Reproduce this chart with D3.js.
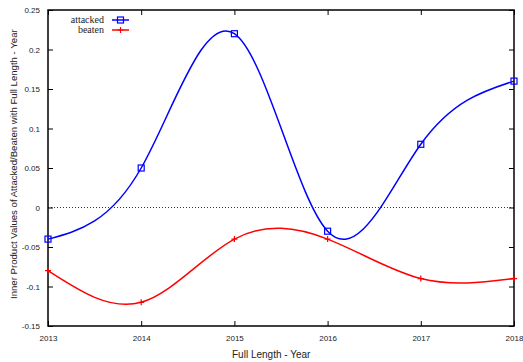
<!DOCTYPE html>
<html>
<head>
<meta charset="utf-8">
<script src="https://cdn.jsdelivr.net/npm/d3@7"></script>
<style>
  body { margin: 0; background: #fff; }
  svg text { font-family: "Liberation Sans", Arial, sans-serif; fill: #222; }
</style>
</head>
<body>
<div class="result"></div>
<script>
// Data
const years = [2013, 2014, 2015, 2016, 2017, 2018];
const attacked = [-0.04, 0.05, 0.22, -0.03, 0.08, 0.16];
const beaten = [-0.08, -0.12, -0.04, -0.04, -0.09, -0.09];
const yTicks = [-0.15, -0.1, -0.05, 0, 0.05, 0.1, 0.15, 0.2, 0.25];

// Width and height
const w = 523;
const h = 362;
const plotLeft = 48, plotRight = 514, plotTop = 10, plotBottom = 326;

const xScale = d3.scaleLinear().domain([2013, 2018]).range([plotLeft, plotRight]);
const yScale = d3.scaleLinear().domain([-0.15, 0.25]).range([plotBottom, plotTop]);

const svg = d3.select('.result')
  .append('svg')
  .attr('width', w)
  .attr('height', h);

// Zero line
svg.append('line')
  .attr('x1', plotLeft).attr('x2', plotRight)
  .attr('y1', yScale(0)).attr('y2', yScale(0))
  .attr('stroke', '#000').attr('stroke-width', 0.8)
  .attr('stroke-dasharray', '1,2');

// Axes (gnuplot style: inward ticks, mirrored)
const tickLen = 5;
const xAxis = d3.axisBottom(xScale).tickValues(years).tickFormat(d3.format('d')).tickSizeInner(-tickLen).tickSizeOuter(0).tickPadding(9);
const xAxisTop = d3.axisTop(xScale).tickValues(years).tickFormat('').tickSizeInner(-tickLen).tickSizeOuter(0);
const yAxis = d3.axisLeft(yScale).tickValues(yTicks).tickFormat(d => String(+d.toFixed(2))).tickSizeInner(-tickLen).tickSizeOuter(0).tickPadding(8);
const yAxisRight = d3.axisRight(yScale).tickValues(yTicks).tickFormat('').tickSizeInner(-tickLen).tickSizeOuter(0);

svg.append('g').attr('transform', 'translate(0,' + plotBottom + ')').call(xAxis);
svg.append('g').attr('transform', 'translate(0,' + plotTop + ')').call(xAxisTop);
svg.append('g').attr('transform', 'translate(' + plotLeft + ',0)').call(yAxis);
svg.append('g').attr('transform', 'translate(' + plotRight + ',0)').call(yAxisRight);

svg.selectAll('.domain').remove();
svg.selectAll('.tick line').attr('stroke', '#000').attr('stroke-width', 1);
svg.selectAll('.tick text').style('font-size', '8px').attr('fill', '#222');

// Border
svg.append('rect')
  .attr('x', plotLeft).attr('y', plotTop)
  .attr('width', plotRight - plotLeft).attr('height', plotBottom - plotTop)
  .attr('fill', 'none').attr('stroke', '#000').attr('stroke-width', 1.5);

// Lines
const line = d3.line()
  .x((d, i) => xScale(years[i]))
  .y(d => yScale(d))
  .curve(d3.curveNatural);

svg.append('path').datum(attacked)
  .attr('d', line).attr('fill', 'none').attr('stroke', '#0000ff').attr('stroke-width', 1.5);
svg.append('path').datum(beaten)
  .attr('d', line).attr('fill', 'none').attr('stroke', '#ff0000').attr('stroke-width', 1.5);

// Markers
const sq = 6;
svg.selectAll('rect.att')
  .data(attacked)
  .enter()
  .append('rect')
  .attr('class', 'att')
  .attr('x', (d, i) => xScale(years[i]) - sq / 2)
  .attr('y', d => yScale(d) - sq / 2)
  .attr('width', sq).attr('height', sq)
  .attr('fill', 'none').attr('stroke', '#0000ff').attr('stroke-width', 1.2);

svg.selectAll('path.bt')
  .data(beaten)
  .enter()
  .append('path')
  .attr('class', 'bt')
  .attr('d', 'M-3,0H3M0,-3V3')
  .attr('transform', (d, i) => 'translate(' + xScale(years[i]) + ',' + yScale(d) + ')')
  .attr('stroke', '#ff0000').attr('stroke-width', 1.2);

// Legend
const legend = svg.append('g').attr('transform', 'translate(104,0)');
const legendItems = [
  { name: 'attacked', color: '#0000ff', y: 20 },
  { name: 'beaten', color: '#ff0000', y: 30 }
];
legendItems.forEach(function (it) {
  legend.append('text')
    .attr('x', 0).attr('y', it.y).attr('dy', '0.32em')
    .attr('text-anchor', 'end')
    .style('font-family', '"Liberation Serif", "Times New Roman", serif')
    .style('font-size', '10px')
    .attr('fill', '#222')
    .text(it.name);
  legend.append('line')
    .attr('x1', 8).attr('x2', 25).attr('y1', it.y).attr('y2', it.y)
    .attr('stroke', it.color).attr('stroke-width', 1.5);
});
legend.append('rect')
  .attr('x', 16.5 - sq / 2).attr('y', 20 - sq / 2).attr('width', sq).attr('height', sq)
  .attr('fill', 'none').attr('stroke', '#0000ff').attr('stroke-width', 1.2);
legend.append('path')
  .attr('d', 'M-3,0H3M0,-3V3')
  .attr('transform', 'translate(16.5,30)')
  .attr('stroke', '#ff0000').attr('stroke-width', 1.2);

// Axis labels
svg.append('text')
  .attr('x', 232).attr('y', 358)
  .attr('text-anchor', 'start')
  .style('font-size', '10px')
  .text('Full Length - Year');

svg.append('text')
  .attr('transform', 'translate(17,299) rotate(-90)')
  .attr('text-anchor', 'start')
  .style('font-size', '9.6px')
  .text('Inner Product Values of Attacked/Beaten with Full Length - Year');
</script>
</body>
</html>
